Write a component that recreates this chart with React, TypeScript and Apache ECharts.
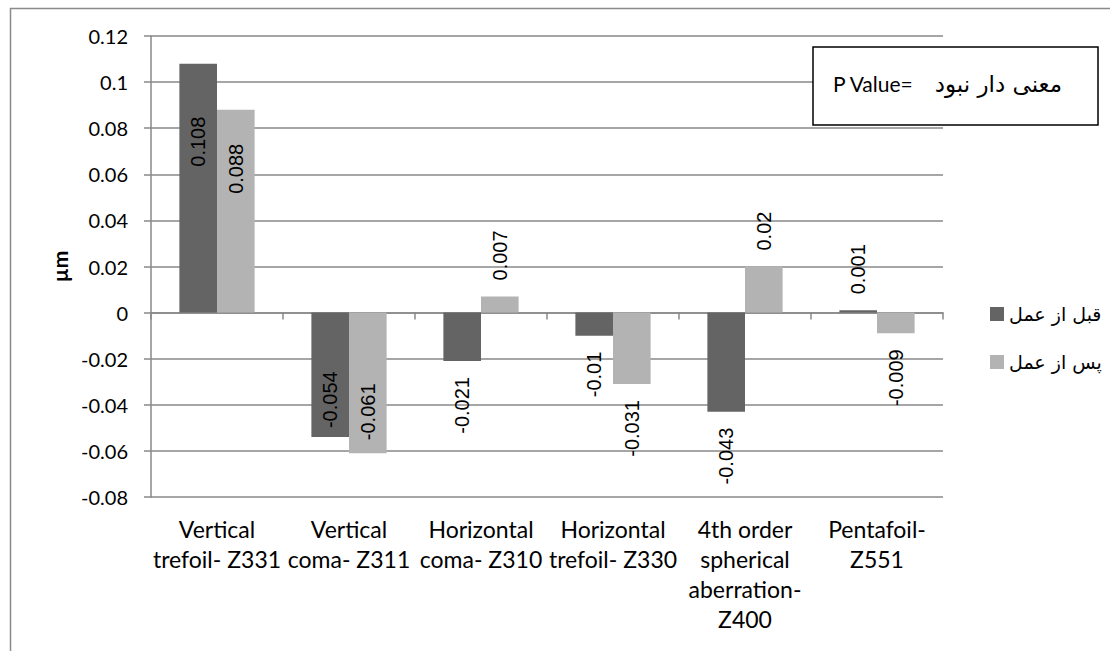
import React, { useEffect, useRef } from "react";
import * as echarts from "echarts";

const categories = [
  "Vertical\ntrefoil- Z331",
  "Vertical\ncoma- Z311",
  "Horizontal\ncoma- Z310",
  "Horizontal\ntrefoil- Z330",
  "4th order\nspherical\naberration-\nZ400",
  "Pentafoil-\nZ551",
];
const seriesNames = ["قبل از عمل", "پس از عمل"];
const beforeValues = [0.108, -0.054, -0.021, -0.01, -0.043, 0.001];
const afterValues = [0.088, -0.061, 0.007, -0.031, 0.02, -0.009];
const yMin = -0.08;
const yMax = 0.12;
const yStep = 0.02;
const axisTitle = "µm";
const noteLatin = "P Value=";
const noteArabic = "معنی دار نبود";

const LATO = "Lato, sans-serif";
const ARIAL = "'Liberation Sans', Arial, sans-serif";
const ARABIC = "'DejaVu Sans', sans-serif";
const GRID = "#888888";

function makeLabel(v: number, insidePos: number, insideNeg: number) {
  const inside = Math.abs(v) >= 0.05;
  const pos = v >= 0;
  return {
    show: true,
    rotate: 90,
    verticalAlign: "middle",
    position: pos ? (inside ? "insideTop" : "top") : inside ? "insideBottom" : "bottom",
    align: pos ? (inside ? "right" : "left") : inside ? "left" : "right",
    distance: inside ? (pos ? insidePos : insideNeg) : 16,
    color: "#000",
    fontFamily: ARIAL,
    fontSize: 20,
    formatter: () => String(v),
  };
}

export default function App() {
  const ref = useRef<HTMLDivElement>(null);
  useEffect(() => {
    if (!ref.current) return;
    const chart = echarts.init(ref.current, undefined, { renderer: "svg" });
    const option: any = {
      animation: false,
      backgroundColor: "#fff",
      grid: { left: 151, right: 167, top: 36, bottom: 154, containLabel: false },
      legend: {
        orient: "vertical",
        left: 985,
        top: 295,
        itemWidth: 14,
        itemHeight: 14,
        itemGap: 20,
        icon: "rect",
        data: seriesNames,
        textStyle: { fontFamily: ARABIC, fontSize: 19, color: "#000", lineHeight: 28 },
      },
      xAxis: [
        {
          type: "category",
          data: categories,
          position: "bottom",
          axisLine: { show: false, onZero: false },
          axisTick: { show: false },
          axisLabel: {
            interval: 0,
            margin: 17,
            color: "#000",
            fontFamily: LATO,
            fontSize: 23,
            lineHeight: 30,
          },
          splitLine: { show: false },
        },
        {
          type: "category",
          data: categories,
          position: "bottom",
          axisLine: { show: true, onZero: true, lineStyle: { color: GRID, width: 1.5 } },
          axisTick: { show: true, length: 7, lineStyle: { color: GRID, width: 1.5 } },
          axisLabel: { show: false },
          splitLine: { show: false },
        },
      ],
      yAxis: {
        type: "value",
        min: yMin,
        max: yMax,
        interval: yStep,
        name: axisTitle,
        nameLocation: "middle",
        nameRotate: 90,
        nameGap: 80,
        nameTextStyle: { fontFamily: LATO, fontSize: 21, fontWeight: "bold", color: "#000" },
        axisLine: { show: true, lineStyle: { color: GRID, width: 1.5 } },
        axisTick: { show: true, length: 7, lineStyle: { color: GRID, width: 1.5 } },
        axisLabel: {
          margin: 23,
          color: "#000",
          fontFamily: LATO,
          fontSize: 20,
          formatter: (v: number) => String(parseFloat(v.toFixed(3))),
        },
        splitLine: { show: true, lineStyle: { color: GRID, width: 1.5 } },
      },
      series: [
        {
          name: seriesNames[0],
          type: "bar",
          xAxisIndex: 0,
          barGap: "0%",
          barCategoryGap: "43%",
          itemStyle: { color: "#646464" },
          data: beforeValues.map((v) => ({ value: v, label: makeLabel(v, 53, 9) })),
        },
        {
          name: seriesNames[1],
          type: "bar",
          xAxisIndex: 0,
          barGap: "0%",
          barCategoryGap: "43%",
          itemStyle: { color: "#b3b3b3" },
          data: afterValues.map((v) => ({ value: v, label: makeLabel(v, 34, 13) })),
        },
      ],
      graphic: [
        { type: "line", shape: { x1: 10.5, y1: 8, x2: 10.5, y2: 651 }, style: { stroke: "#8a8a8a", lineWidth: 1.5 } },
        { type: "line", shape: { x1: 10, y1: 8.5, x2: 1110, y2: 8.5 }, style: { stroke: "#8a8a8a", lineWidth: 1.5 } },
        {
          type: "rect",
          shape: { x: 813, y: 47, width: 285, height: 78 },
          style: { fill: "#fff", stroke: "#000", lineWidth: 1.5 },
          z: 10,
        },
        {
          type: "text",
          x: 833,
          y: 83,
          z: 11,
          style: {
            text: noteLatin,
            fill: "#000",
            font: "21px Lato, sans-serif",
            verticalAlign: "middle",
            align: "left",
          },
        },
        {
          type: "text",
          x: 1062,
          y: 84,
          z: 11,
          style: {
            text: noteArabic,
            fill: "#000",
            font: "23px 'DejaVu Sans', sans-serif",
            verticalAlign: "middle",
            align: "right",
          },
        },
      ],
    };
    chart.setOption(option);
    return () => chart.dispose();
  }, []);
  return (
    <div
      ref={ref}
      style={{ position: "fixed", left: 0, top: 0, width: 1110, height: 651, background: "#fff" }}
    />
  );
}
